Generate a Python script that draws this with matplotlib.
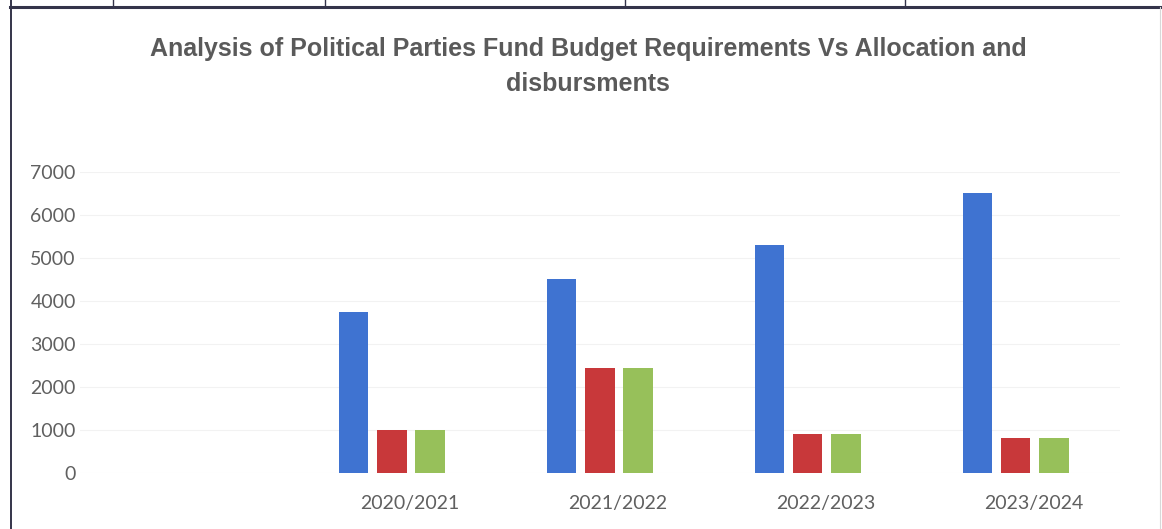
import numpy as np
import matplotlib
matplotlib.use("Agg")
import matplotlib.pyplot as plt
from matplotlib.lines import Line2D
import matplotlib.transforms as mtransforms

# Data
years = ['2020/2021', '2021/2022', '2022/2023', '2023/2024']
requirements = [3750, 4500, 5300, 6520]
allocation = [1000, 2450, 900, 820]
disbursement = [1000, 2450, 900, 820]

blue = '#3f73d1'
red = '#c8383a'
green = '#97c05a'
grey_txt = '#5a5a5a'

fig = plt.figure(figsize=(11.62, 5.29), dpi=100)
ax = fig.add_axes([0.0688, 0.1059, 0.895, 0.569])

# first category slot is empty in the original
x = np.arange(1, len(years) + 1)
w = 0.14
step = 0.183
ax.bar(x - step, requirements, w, color=blue)
ax.bar(x, allocation, w, color=red)
ax.bar(x + step, disbursement, w, color=green)

ax.set_xlim(-0.5, 4.5)
ax.set_ylim(0, 7000)
ax.set_yticks(np.arange(0, 7001, 1000))
ax.yaxis.grid(True, color='#f2f2f2', lw=0.8)
ax.set_axisbelow(True)
for s in ax.spines.values():
    s.set_visible(False)
ax.tick_params(axis='both', length=0, colors='#606060', labelsize=14)
ax.tick_params(axis='y', pad=3)
ax.tick_params(axis='x', pad=16)
ax.set_xticks(x)
ax.set_xticklabels(years)
for lab in ax.get_xticklabels() + ax.get_yticklabels():
    lab.set_family(['Lato', 'DejaVu Sans'])
# labels sit a bit right of the bar groups in the scan
shift = mtransforms.ScaledTranslation(18 / 100, 0, fig.dpi_scale_trans)
for lab in ax.get_xticklabels():
    lab.set_transform(lab.get_transform() + shift)

fig.text(0.506, 0.874,
         'Analysis of Political Parties Fund Budget Requirements Vs Allocation and\ndisbursments',
         ha='center', va='center', fontsize=18, fontweight='bold', color=grey_txt,
         family=['Liberation Sans Narrow', 'Liberation Sans'], linespacing=1.6)

# page/table borders from the scanned document
H, W = 529, 1162
def px_line(x0, y0, x1, y1, lw, c):
    fig.add_artist(Line2D([x0 / W, x1 / W], [1 - y0 / H, 1 - y1 / H],
                          transform=fig.transFigure, lw=lw, color=c))

px_line(10, 7, 1162, 7, 2.2, '#34344a')
px_line(10.5, 0, 10.5, 529, 1.4, '#34344a')
for cx in [113, 325, 625, 905]:
    px_line(cx, 0, cx, 7, 1.0, '#34344a')
px_line(1160, 7, 1160, 529, 0.8, '#d8d8d8')

fig.savefig('out.png', dpi=100, facecolor='white')
